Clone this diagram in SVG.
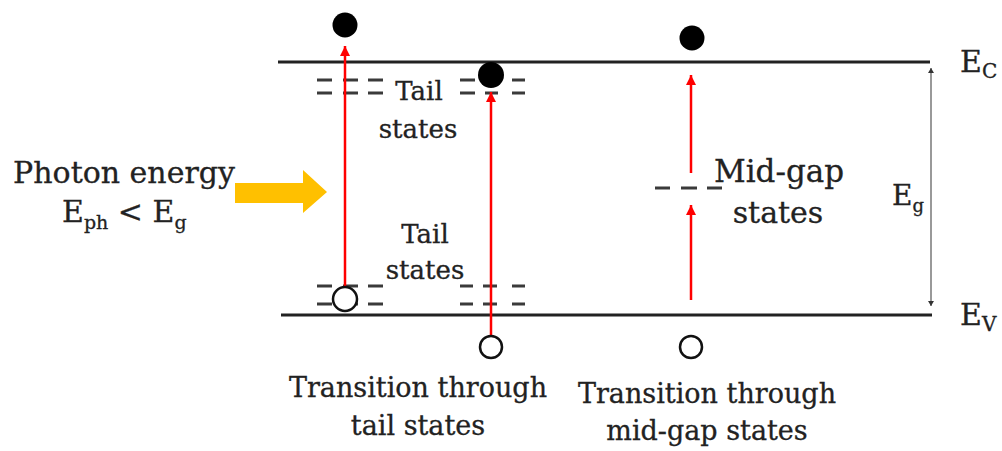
<svg xmlns="http://www.w3.org/2000/svg" width="1002" height="451" viewBox="0 0 1002 451">
<defs>
<marker id="redhead" markerUnits="userSpaceOnUse" markerWidth="10" markerHeight="12" refX="10" refY="5" orient="auto">
<path d="M0,0 L10,5 L0,10 z" fill="#ff0000"/>
</marker>
<marker id="grayhead" markerUnits="userSpaceOnUse" markerWidth="6" markerHeight="6" refX="5" refY="3" orient="auto-start-reverse">
<path d="M0,0 L5,3 L0,6 z" fill="#333"/>
</marker>
</defs>
<style>
.t{font-family:"DejaVu Serif","Liberation Serif",serif;fill:#222;stroke:#222;stroke-width:0.3}
.band{stroke:#222;stroke-width:3;fill:none}
.dash{stroke:#3a3a3a;stroke-width:3;fill:none}
.red{stroke:#ff0000;stroke-width:2.5;fill:none;marker-end:url(#redhead)}
.e{fill:#000}
.h{fill:#fff;stroke:#111;stroke-width:2.5}
</style>
<rect width="1002" height="451" fill="#fff"/>

<g id="bands">
<line class="band" x1="278" y1="62" x2="930" y2="62"/>
<line class="band" x1="281" y1="315" x2="932" y2="315"/>
</g>

<g id="tail-states-top">
<path class="dash" d="M317,80h15M343,80h15M368,80h15M317,93h15M343,93h15M368,93h15"/>
<path class="dash" d="M460,80h15M485,80h13M512,80h13M460,93h15M485,93h13M512,93h13"/>
<text class="t" font-size="26" x="419" y="100" text-anchor="middle">Tail</text>
<text class="t" font-size="26" x="418" y="138" text-anchor="middle">states</text>
</g>

<g id="tail-states-bottom">
<path class="dash" d="M317,286h15M343,286h15M368,286h15M317,304h15M343,304h15M368,304h15"/>
<path class="dash" d="M460,286h13M483,286h14M512,286h13M460,304h13M483,304h14M512,304h13"/>
<text class="t" font-size="26" x="425" y="243" text-anchor="middle">Tail</text>
<text class="t" font-size="26" x="425" y="279" text-anchor="middle">states</text>
</g>

<g id="midgap-states">
<path class="dash" d="M655,188h15M681,188h16M707,188h15"/>
<text class="t" font-size="31" x="779" y="182" text-anchor="middle">Mid-gap</text>
<text class="t" font-size="30" x="778" y="223" text-anchor="middle">states</text>
</g>

<g id="connectors">
<line class="red" x1="345" y1="287" x2="345" y2="46"/>
<line class="red" x1="491" y1="336" x2="491" y2="92"/>
<line class="red" x1="691" y1="173" x2="691" y2="75"/>
<line class="red" x1="691" y1="300" x2="691" y2="205"/>
<line x1="931" y1="68" x2="931" y2="306" stroke="#555" stroke-width="1.2" marker-start="url(#grayhead)" marker-end="url(#grayhead)"/>
</g>

<g id="electrons">
<circle class="e" cx="345" cy="25" r="12.5"/>
<circle class="e" cx="491" cy="75" r="13"/>
<circle class="e" cx="692" cy="38" r="12.5"/>
</g>

<g id="holes">
<circle class="h" cx="345" cy="299" r="12"/>
<circle class="h" cx="491" cy="347" r="11"/>
<circle class="h" cx="691" cy="347" r="11"/>
</g>

<g id="photon">
<text class="t" font-size="30" x="124" y="183" text-anchor="middle">Photon energy</text>
<text class="t" font-size="30" x="62" y="222">E<tspan font-size="19" dy="7">ph</tspan><tspan dy="-7"> &lt; E</tspan><tspan font-size="19" dy="7">g</tspan></text>
<path d="M235,183 H303 V170 L327,192 L303,213 V203 H235 z" fill="#ffc000"/>
</g>

<g id="labels">
<text class="t" font-size="30" x="960" y="72">E<tspan font-size="20" dy="6">C</tspan></text>
<text class="t" font-size="30" x="960" y="325">E<tspan font-size="20" dy="6">V</tspan></text>
<text class="t" font-size="28" x="892" y="205">E<tspan font-size="18" dy="7">g</tspan></text>
</g>

<g id="captions">
<text class="t" font-size="27" x="418" y="397" text-anchor="middle">Transition through</text>
<text class="t" font-size="27" x="418" y="435" text-anchor="middle">tail states</text>
<text class="t" font-size="27" x="707" y="403" text-anchor="middle">Transition through</text>
<text class="t" font-size="27" x="707" y="440" text-anchor="middle">mid-gap states</text>
</g>
</svg>
